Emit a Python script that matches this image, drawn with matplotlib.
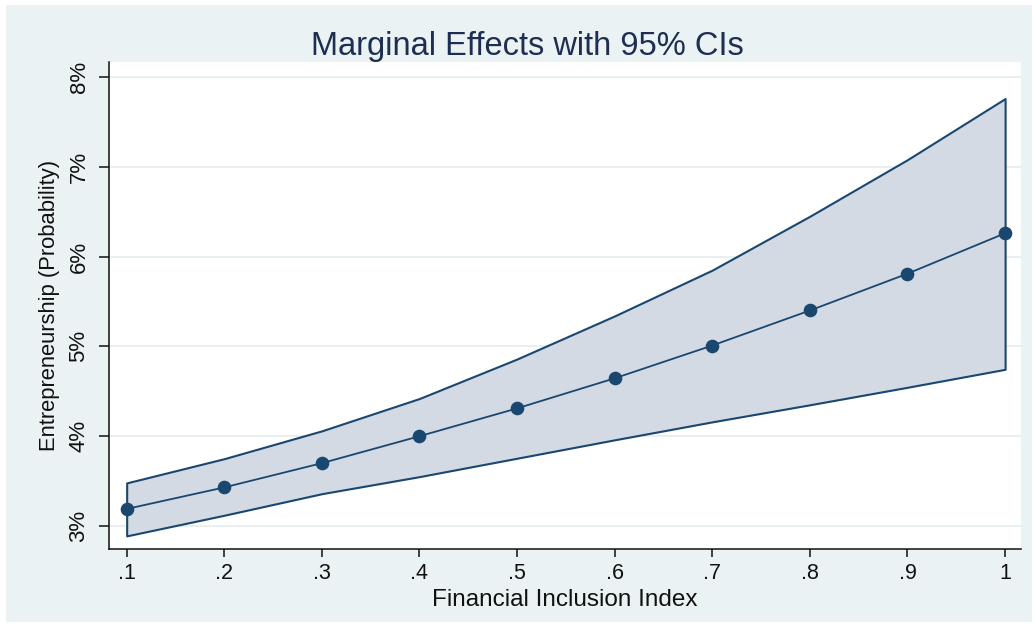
import matplotlib
matplotlib.use("Agg")
import matplotlib.pyplot as plt
from matplotlib.patches import Rectangle

# ---- data ----
fin_index = [0.1, 0.2, 0.3, 0.4, 0.5, 0.6, 0.7, 0.8, 0.9, 1.0]
margin = [3.19, 3.43, 3.70, 4.00, 4.31, 4.645, 5.01, 5.40, 5.81, 6.26]
ci_upper = [3.48, 3.75, 4.06, 4.42, 4.86, 5.34, 5.85, 6.45, 7.08, 7.76]
ci_lower = [2.89, 3.12, 3.36, 3.55, 3.755, 3.96, 4.16, 4.35, 4.545, 4.745]
x_ticks = [0.1, 0.2, 0.3, 0.4, 0.5, 0.6, 0.7, 0.8, 0.9, 1.0]
x_tick_labels = [".1", ".2", ".3", ".4", ".5", ".6", ".7", ".8", ".9", "1"]
y_ticks = [3, 4, 5, 6, 7, 8]
y_tick_labels = ["3%", "4%", "5%", "6%", "7%", "8%"]
title = "Marginal Effects with 95% CIs"
x_label = "Financial Inclusion Index"
y_label = "Entrepreneurship (Probability)"

# ---- style ----
plt.rcParams['font.family'] = ['Liberation Sans', 'DejaVu Sans']
W, H = 1036, 628
BG = "#EAF2F3"
LINE = "#1A476F"
FILL = "#D3DAE3"
TITLE_C = "#1E2D52"

fig = plt.figure(figsize=(W / 100, H / 100), dpi=100, facecolor="white")
fig.patches.append(Rectangle((6 / W, 1 - 622 / H), 1026 / W, 617 / H,
                             transform=fig.transFigure, facecolor=BG,
                             edgecolor="none", zorder=-10))

ax = fig.add_axes([109 / W, 1 - 549 / H, (1021.5 - 109) / W, (549 - 62) / H])
ax.set_facecolor("white")

ax.fill_between(fin_index, ci_lower, ci_upper, facecolor=FILL,
                edgecolor=LINE, linewidth=1.5, zorder=2)
ax.plot(fin_index, margin, color=LINE, linewidth=1.3, marker="o",
        markersize=8.8, markerfacecolor=LINE, markeredgecolor=LINE, zorder=3)

ax.set_xlim(0.0819, 1.0168)
ax.set_ylim(2.744, 8.167)

ax.set_xticks(x_ticks)
ax.set_xticklabels(x_tick_labels)
ax.set_yticks(y_ticks)
ax.set_yticklabels(y_tick_labels)

ax.grid(axis="y", color="#E3ECEF", linewidth=1.2, zorder=0)
ax.set_axisbelow(True)

for s in ["top", "right"]:
    ax.spines[s].set_visible(False)
for s in ["left", "bottom"]:
    ax.spines[s].set_color("#111111")
    ax.spines[s].set_linewidth(1.1)

ax.tick_params(axis="x", direction="out", length=6, width=1.1, pad=4,
               labelsize=15.5, colors="#111111")
ax.tick_params(axis="y", direction="out", length=7, width=1.1, pad=7,
               labelsize=16, colors="#111111", labelrotation=90)
for lab in ax.get_yticklabels():
    lab.set_va("center")

ax.set_xlabel(x_label, fontsize=17.5, color="#111111", va="baseline")
ax.xaxis.set_label_coords(0.5, -57 / 487)
ax.set_ylabel(y_label, fontsize=15.8, color="#111111")
ax.yaxis.set_label_coords(-49 / 912.5, 0.5)

fig.text(527 / W, 1 - 55 / H, title, ha="center", va="baseline",
         fontsize=23.5, color=TITLE_C)

fig.savefig("out.png", dpi=100, facecolor="white")
